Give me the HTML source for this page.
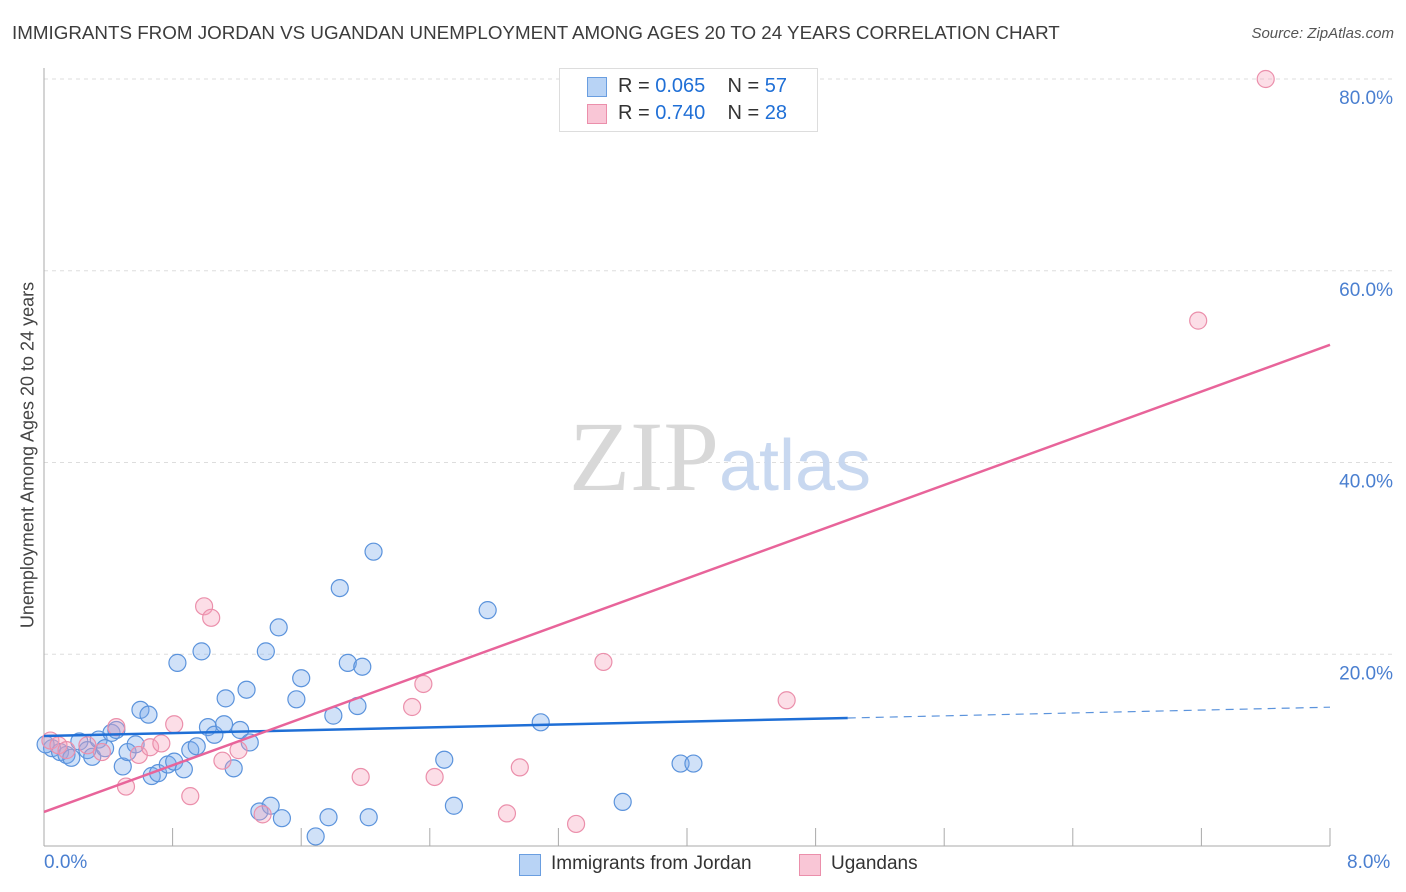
<!DOCTYPE html>
<html><head><meta charset="utf-8">
<style>
body{margin:0;background:#fff;font-family:"Liberation Sans",sans-serif;}
#wrap{position:relative;width:1406px;height:892px;overflow:hidden;}
.t{position:absolute;white-space:nowrap;}
</style></head><body>
<div id="wrap">
<div class="t" style="left:12px;top:22px;font-size:18.8px;color:#3c3c3c;">IMMIGRANTS FROM JORDAN VS UGANDAN UNEMPLOYMENT AMONG AGES 20 TO 24 YEARS CORRELATION CHART</div>
<div class="t" style="right:12px;top:25px;font-size:15px;color:#555;font-style:italic;">Source: ZipAtlas.com</div>
<svg id="svg" width="1406" height="892" style="position:absolute;left:0;top:0"></svg>
</div>
<script>
const xTicks=[0.8,1.6,2.4,3.2,4.0,4.8,5.6,6.4,7.2,8.0];
const yTicks=[20,40,60,80];
const yTickLabels=["20.0%","40.0%","60.0%","80.0%"];
const blueX=[0.05,0.10,0.14,0.17,0.22,0.27,0.30,0.34,0.38,0.42,0.45,0.49,0.52,0.57,0.60,0.65,0.67,0.71,0.77,0.81,0.83,0.87,0.91,0.95,0.98,1.02,1.06,1.13,1.12,1.18,1.22,1.26,1.28,1.34,1.38,1.41,1.46,1.48,1.57,1.60,1.69,1.77,1.80,1.84,1.89,1.95,1.98,2.02,2.05,2.49,2.55,2.76,3.09,3.60,3.96,4.04,0.01];
const blueY=[10.2,9.8,9.5,9.2,10.9,10.0,9.3,11.1,10.2,11.8,12.1,8.3,9.8,10.6,14.2,13.7,7.3,7.6,8.5,8.8,19.1,8.0,10.0,10.4,20.3,12.4,11.6,15.4,12.7,8.1,12.1,16.3,10.8,3.6,20.3,4.2,22.8,2.9,15.3,17.5,1.0,3.0,13.6,26.9,19.1,14.6,18.7,3.0,30.7,9.0,4.2,24.6,12.9,4.6,8.6,8.6,10.6];
const pinkX=[0.04,0.09,0.14,0.27,0.36,0.45,0.51,0.59,0.66,0.73,0.81,0.91,0.996,1.04,1.11,1.21,1.36,1.97,2.29,2.36,2.43,2.88,2.96,3.31,3.48,4.62,7.18,7.60];
const pinkY=[11.0,10.5,10.0,10.5,9.8,12.4,6.2,9.5,10.3,10.7,12.7,5.2,25.0,23.8,8.9,10.0,3.3,7.2,14.5,16.9,7.2,3.4,8.2,2.3,19.2,15.2,54.8,80.0];
const blueLine={a:11.47,b:0.376,solidEnd:5.0};
const pinkLine={a:3.55,b:6.09};
const X=v=>44+v*160.75, Y=v=>846-v*9.5875;
const svg=document.getElementById('svg');
const NS='http://www.w3.org/2000/svg';
function mk(tag,attrs,parent){const e=document.createElementNS(NS,tag);for(const k in attrs)e.setAttribute(k,attrs[k]);(parent||svg).appendChild(e);return e;}
yTicks.forEach((t,i)=>{
  const g=mk('line',{x1:44,x2:1394,y1:Y(t),y2:Y(t),stroke:'#ddd','stroke-dasharray':'4,4'});
  
  
  const l=mk('text',{x:1393,y:Y(t)+25,'text-anchor':'end','font-size':19,fill:'#4a7fd0','font-family':'Liberation Sans'});
  l.textContent=yTickLabels[i];
  
  
});
const topGrid=mk('line',{x1:44,x2:1394,y1:79,y2:79,stroke:'#ddd','stroke-dasharray':'4,4'});


const ax=mk('line',{x1:44,x2:44,y1:68,y2:846,stroke:'#aaa'});


const bx=mk('line',{x1:44,x2:1330,y1:846,y2:846,stroke:'#aaa'});


xTicks.forEach(t=>{
  const tk=mk('line',{x1:X(t),x2:X(t),y1:828,y2:846,stroke:'#aaa'});
  
  
});
const wm=mk('text',{x:720,y:490,'text-anchor':'middle','font-size':100,'font-family':'Liberation Serif',fill:'#d8d8d8'});
wm.innerHTML='ZIP<tspan fill="#c8d8f0" font-family="Liberation Sans" font-size="72">atlas</tspan>';


blueX.forEach((x,i)=>{const c=mk('circle',{cx:X(x),cy:Y(blueY[i]),r:8.5,fill:'rgba(120,170,235,0.35)',stroke:'#5b93dc','stroke-width':1.2});
  
  });
pinkX.forEach((x,i)=>{const c=mk('circle',{cx:X(x),cy:Y(pinkY[i]),r:8.5,fill:'rgba(245,160,185,0.35)',stroke:'#eb8fab','stroke-width':1.2});
  
  });
const bl=mk('line',{x1:X(0),y1:Y(blueLine.a),x2:X(blueLine.solidEnd),y2:Y(blueLine.a+blueLine.b*blueLine.solidEnd),stroke:'#1f6fd6','stroke-width':2.5});


const bd=mk('line',{x1:X(blueLine.solidEnd),y1:Y(blueLine.a+blueLine.b*blueLine.solidEnd),x2:X(8),y2:Y(blueLine.a+blueLine.b*8),stroke:'#5b93dc','stroke-width':1.2,'stroke-dasharray':'8,6'});


const pl=mk('line',{x1:X(0),y1:Y(pinkLine.a),x2:X(8),y2:Y(pinkLine.a+pinkLine.b*8),stroke:'#e8649a','stroke-width':2.5});


</script>
<div class="t" style="left:44px;top:852px;font-size:19px;color:#4a7fd0;">0.0%</div>
<div class="t" style="left:1347px;top:852px;font-size:19px;color:#4a7fd0;">8.0%</div>
<div class="t" style="top:455px;font-size:18px;color:#444;transform:translate(-50%,-50%) rotate(-90deg);left:28px;">Unemployment Among Ages 20 to 24 years</div>
<div style="position:absolute;left:559px;top:68px;width:257px;height:62px;border:1px solid #ddd;background:#fff;">
 <div style="position:absolute;left:27px;top:8px;width:18px;height:18px;background:#b8d3f5;border:1px solid #6a9ee0;"></div>
 <div class="t" style="left:58px;top:6px;font-size:20px;color:#333;">R = <span style="color:#1f6fd6">0.065</span>&nbsp;&nbsp;&nbsp; N = <span style="color:#1f6fd6">57</span></div>
 <div style="position:absolute;left:27px;top:35px;width:18px;height:18px;background:#f9c6d6;border:1px solid #eb8fab;"></div>
 <div class="t" style="left:58px;top:33px;font-size:20px;color:#333;">R = <span style="color:#1f6fd6">0.740</span>&nbsp;&nbsp;&nbsp; N = <span style="color:#1f6fd6">28</span></div>
</div>
<div style="position:absolute;left:519px;top:854px;width:20px;height:20px;background:#b8d3f5;border:1px solid #6a9ee0;"></div>
<div class="t" style="left:551px;top:853px;font-size:19px;color:#333;">Immigrants from Jordan</div>
<div style="position:absolute;left:799px;top:854px;width:20px;height:20px;background:#f9c6d6;border:1px solid #eb8fab;"></div>
<div class="t" style="left:831px;top:853px;font-size:19px;color:#333;">Ugandans</div>
</body></html>
